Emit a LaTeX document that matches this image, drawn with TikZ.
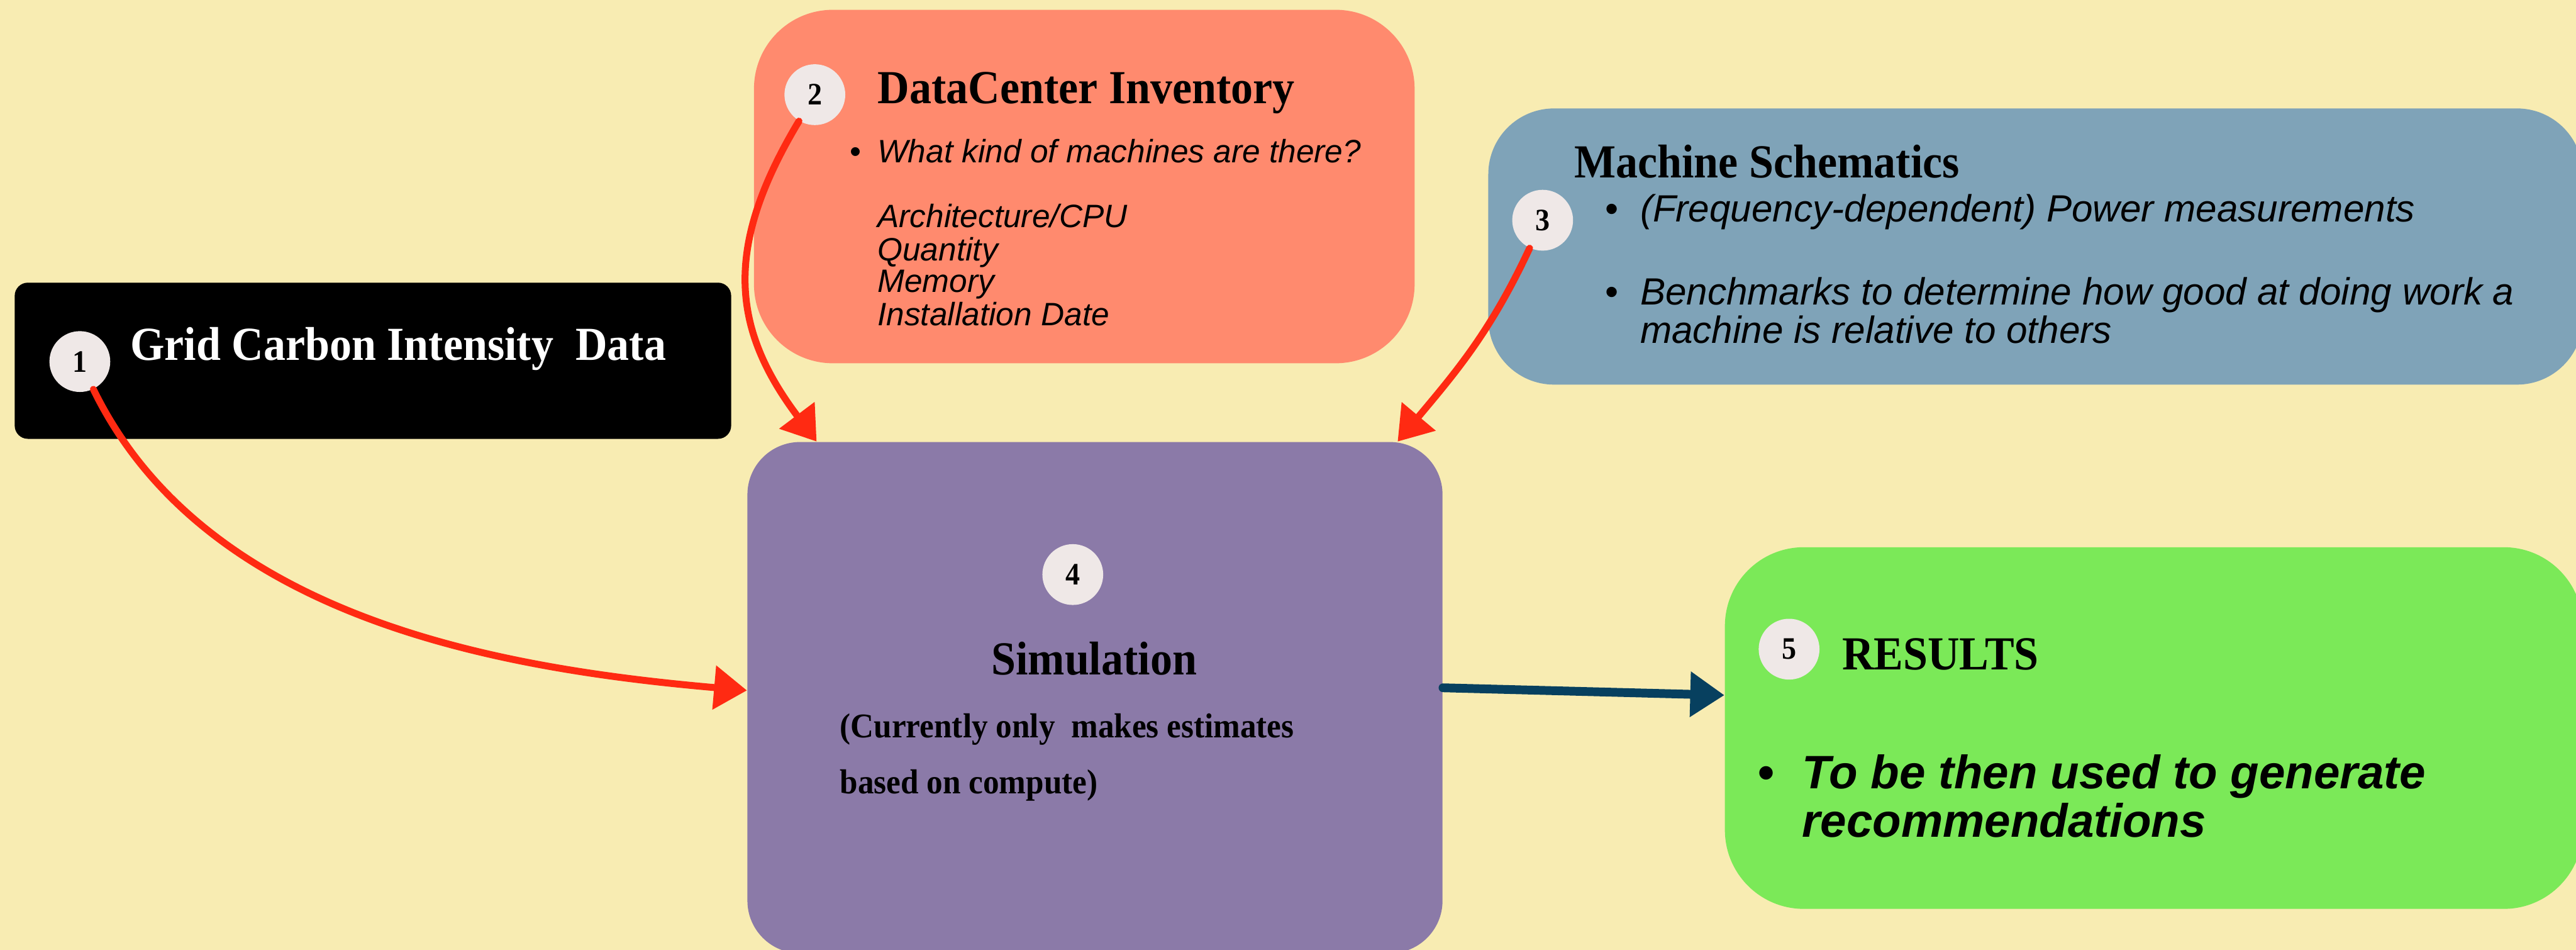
\documentclass[tikz,border=0pt]{standalone}
\usepackage{fontspec}
\setmainfont{Liberation Sans}
\newfontfamily\headfont[FakeStretch=0.93]{Liberation Serif}
\usetikzlibrary{arrows.meta}
\definecolor{paper}{HTML}{F8ECB2}
\definecolor{inventory}{HTML}{FF8A6E}
\definecolor{schematics}{HTML}{7FA3B8}
\definecolor{simpurple}{HTML}{8B7AA8}
\definecolor{resultsgreen}{HTML}{7BE958}
\definecolor{dotfill}{HTML}{EFE8E7}
\definecolor{chalkred}{HTML}{FF2A12}
\definecolor{chalkblue}{HTML}{07405F}
\tikzset{
  panel/.style={rectangle, rounded corners=#1, inner sep=0pt},
  numdot/.style={circle, fill=dotfill, minimum size=0.925cm, inner sep=0pt,
    font=\headfont\bfseries\fontsize{13.5}{13.5}\selectfont},
  head/.style={anchor=base west, inner sep=0pt,
    font=\headfont\bfseries\fontsize{20.5}{20.5}\selectfont},
  body/.style={anchor=base west, inner sep=0pt},
  chalk/.style={line width=3pt, draw=chalkred, line cap=round,
    -{Triangle[length=0.5cm,width=0.65cm]}},
}
\newcommand{\blt}[1]{\makebox[#1][l]{\upshape\textbullet}}

\begin{document}
\begin{tikzpicture}[x=0.025cm, y=-0.025cm]
\useasboundingbox[fill=paper] (0,0) rectangle (1568,578);

% the five panels
\node[panel=0.2cm, fill=black, minimum width=10.9cm, minimum height=2.375cm] (grid) at (227,219.5) {};
\node[panel=1.2cm, fill=inventory, minimum width=10.05cm, minimum height=5.375cm] (inventory) at (660,113.5) {};
\node[panel=1cm, fill=schematics, minimum width=16.65cm, minimum height=4.2cm] (schematics) at (1239,150) {};
\node[panel=0.8cm, fill=simpurple, minimum width=10.575cm, minimum height=7.775cm] (sim) at (666.5,424.5) {};
\node[panel=1.2cm, fill=resultsgreen, minimum width=13.05cm, minimum height=5.5cm] (results) at (1311,443) {};

% titles and text
\node[head, text=white] (gridtitle) at (79,219) {Grid Carbon Intensity\ \ Data};

\node[head] (invtitle) at (534,63) {DataCenter Inventory};
\node[body, font=\itshape\fontsize{14}{13.8}\selectfont] (invlist) at (517,99)
  {\begin{tabular}[t]{@{}l@{}l@{}}
   \blt{12pt} & What kind of machines are there?\\
   & \\
   & Architecture/CPU\\
   & Quantity\\
   & Memory\\
   & Installation Date
   \end{tabular}};

\node[head] (schtitle) at (958,108) {Machine Schematics};
\node[body, font=\itshape\fontsize{16.4}{15.6}\selectfont] (power) at (977,135)
  {\blt{15pt}(Frequency-dependent) Power measurements};
\node[body, font=\itshape\fontsize{16.4}{15.6}\selectfont] (bench) at (977,185.4)
  {\begin{tabular}[t]{@{}l@{}l@{}}
   \blt{15pt} & Benchmarks to determine how good at doing work a\\
   & machine is relative to others
   \end{tabular}};

\node[head, anchor=base] (simtitle) at (666,410.6) {Simulation};
\node[body, font=\headfont\bfseries\fontsize{15}{24.2}\selectfont] (simnote) at (511,449)
  {\begin{tabular}[t]{@{}l@{}}
   (Currently only\ \ makes estimates\\
   based on compute)
   \end{tabular}};

\node[head] (restitle) at (1121,407.5) {RESULTS};
\node[body, font=\bfseries\itshape\fontsize{20.3}{20.4}\selectfont] (resnote) at (1070,480)
  {\begin{tabular}[t]{@{}l@{}l@{}}
   \blt{19pt} & To be then used to generate\\
   & recommendations
   \end{tabular}};

% numbered dots
\node[numdot] (n1) at (48.6,220) {1};
\node[numdot] (n2) at (496,57.6) {2};
\node[numdot] (n3) at (939,134) {3};
\node[numdot] (n4) at (653,349.6) {4};
\node[numdot] (n5) at (1089,395) {5};

% arrows
\draw[chalk] (n1) to[out=-64, in=175, looseness=0.9] ([yshift=0.11cm]sim.west);
\draw[chalk] (n2) to[out=-121, in=127, looseness=1.15] ([xshift=1.06cm]sim.north west);
\draw[chalk] (n3) to[out=-115, in=50] ([xshift=-0.69cm]sim.north east);
\draw[chalk, draw=chalkblue, line width=3.8pt, -{Triangle[length=0.52cm,width=0.66cm]}]
  ([yshift=0.15cm]sim.east) -- ([yshift=0.5cm]results.west);
\end{tikzpicture}
\end{document}
